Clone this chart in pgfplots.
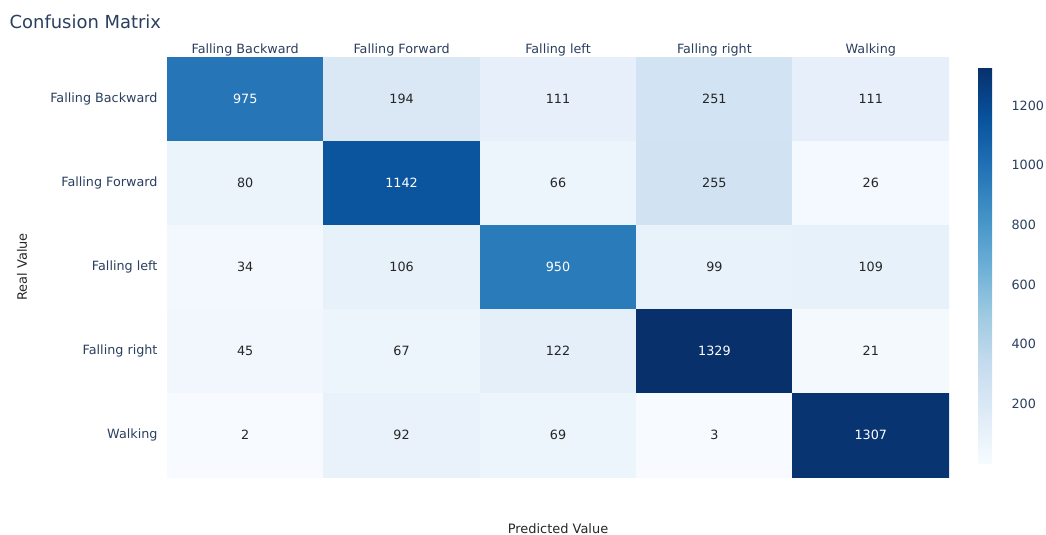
\documentclass[border=0pt]{standalone}
\usepackage{pgfplots}
\pgfplotsset{compat=1.18}
\usepackage{pgfplotstable}
\usepackage{fontspec}
\setmainfont{DejaVu Sans}
\definecolor{plotlytext}{HTML}{2A3F5F}

\pgfplotstableread{
x y c
0 0 975
1 0 194
2 0 111
3 0 251
4 0 111
0 1 80
1 1 1142
2 1 66
3 1 255
4 1 26
0 2 34
1 2 106
2 2 950
3 2 99
4 2 109
0 3 45
1 3 67
2 3 122
3 3 1329
4 3 21
0 4 2
1 4 92
2 4 69
3 4 3
4 4 1307
}\cmdata

\pgfplotstableread{
x y c
1 0 194
2 0 111
3 0 251
4 0 111
0 1 80
2 1 66
3 1 255
4 1 26
0 2 34
1 2 106
3 2 99
4 2 109
0 3 45
1 3 67
2 3 122
4 3 21
0 4 2
1 4 92
2 4 69
3 4 3
}\blacktext

\pgfplotstableread{
x y c
0 0 975
1 1 1142
2 2 950
3 3 1329
4 4 1307
}\whitetext

\begin{document}
\begin{tikzpicture}
\path[use as bounding box] (0bp,0bp) rectangle (1046bp,535bp);
\node[anchor=west, font=\fontsize{18}{21}\selectfont, text=plotlytext, inner sep=0pt] at (9.5bp,513bp) {Confusion Matrix};
\node[font=\fontsize{13}{15}\selectfont, text=black!85, inner sep=0pt] at (558bp,6bp) {Predicted Value};
\node[font=\fontsize{13}{15}\selectfont, text=black!85, inner sep=0pt, rotate=90] at (22bp,268bp) {Real Value};
\begin{axis}[
  at={(167bp,478bp)}, anchor=north west,
  width=782bp, height=420bp, scale only axis,
  xmin=-0.5, xmax=4.5, ymin=-0.5, ymax=4.5,
  y dir=reverse,
  xtick={0,...,4}, ytick={0,...,4},
  xticklabels={Falling Backward,Falling Forward,Falling left,Falling right,Walking},
  yticklabels={Falling Backward,Falling Forward,Falling left,Falling right,Walking},
  xticklabel pos=top,
  axis line style={draw=none},
  major tick length=0pt,
  tick label style={font=\fontsize{12.8}{15}\selectfont, text=plotlytext},
  xticklabel style={yshift=-3bp},
  yticklabel style={xshift=-6bp},
  colormap={plotlyblues}{rgb255=(247,251,255) rgb255=(222,235,247) rgb255=(198,219,239) rgb255=(158,202,225) rgb255=(107,174,214) rgb255=(66,146,198) rgb255=(33,113,181) rgb255=(8,81,156) rgb255=(8,48,107)},
  point meta min=2, point meta max=1329,
  colorbar,
  colorbar style={
    at={(1.0371,0.976)}, anchor=north west,
    width=32bp, height=396bp, scale only axis,
    ytick={200,400,600,800,1000,1200},
    axis line style={draw=none},
    major tick length=0pt,
    yticklabel style={font=\fontsize{12.8}{15}\selectfont, text=plotlytext, xshift=-2bp},
    /pgf/number format/assume math mode=true,
    /pgf/number format/1000 sep={},
  },
]
\addplot[matrix plot*, mesh/cols=5, point meta=explicit, draw=none] table[x=x, y=y, meta=c] {\cmdata};
\addplot[only marks, mark=none, point meta=explicit symbolic,
  nodes near coords, nodes near coords align={center},
  every node near coord/.append style={font=\fontsize{12.8}{15}\selectfont, text=black!85, anchor=center}]
  table[x=x, y=y, meta=c] {\blacktext};
\addplot[only marks, mark=none, point meta=explicit symbolic,
  nodes near coords, nodes near coords align={center},
  every node near coord/.append style={font=\fontsize{12.8}{15}\selectfont, text=white, anchor=center}]
  table[x=x, y=y, meta=c] {\whitetext};
\end{axis}
\end{tikzpicture}
\end{document}
